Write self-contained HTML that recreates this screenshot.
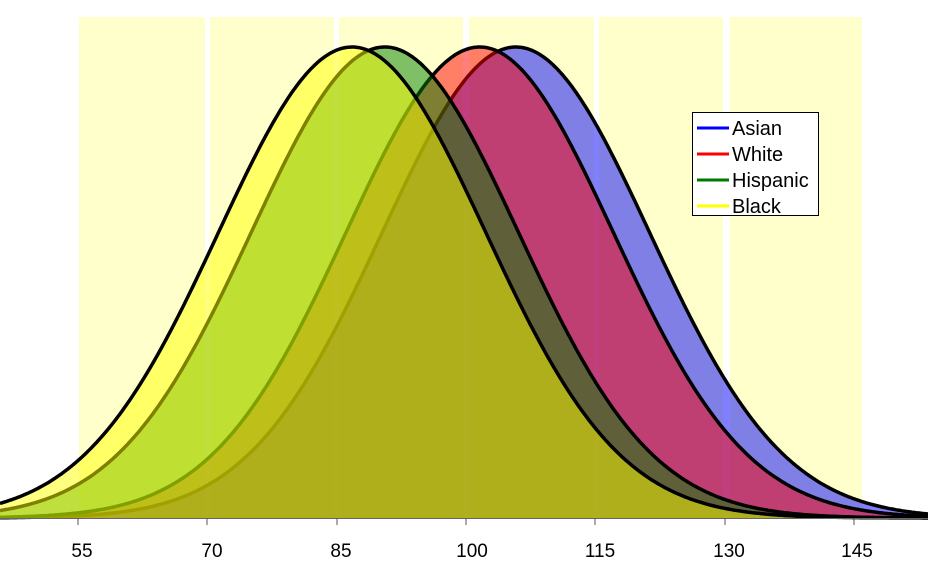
<!DOCTYPE html>
<html><head><style>
html,body{margin:0;padding:0;background:#fff;}
svg{display:block;font-family:"Liberation Sans",Arial,sans-serif;}
</style></head><body>
<svg id="s" width="928" height="571" viewBox="0 0 928 571" xmlns="http://www.w3.org/2000/svg">
<g fill="#ffffcc">
<rect x="79" y="17" width="126" height="501"/>
<rect x="210" y="17" width="124" height="501"/>
<rect x="339" y="17" width="124" height="501"/>
<rect x="469" y="17" width="125" height="501"/>
<rect x="599" y="17" width="124" height="501"/>
<rect x="730" y="17" width="132" height="501"/>
</g>
<g id="curves"></g>
<line x1="0" y1="518.5" x2="928" y2="518.5" stroke="#666" stroke-width="1"/>
<g stroke="#555" stroke-width="1">
<line x1="78" y1="518" x2="78" y2="525"/><line x1="207" y1="518" x2="207" y2="525"/>
<line x1="337" y1="518" x2="337" y2="525"/><line x1="466" y1="518" x2="466" y2="525"/>
<line x1="595" y1="518" x2="595" y2="525"/><line x1="725" y1="518" x2="725" y2="525"/>
<line x1="854" y1="518" x2="854" y2="525"/>
</g>
<g font-size="19" text-anchor="middle" fill="#000">
<text x="82" y="557">55</text><text x="212" y="557">70</text><text x="341" y="557">85</text>
<text x="472" y="557">100</text><text x="600" y="557">115</text><text x="729" y="557">130</text><text x="857" y="557">145</text>
</g>
<rect x="692.5" y="112.5" width="126" height="103" fill="#fff" stroke="#000" stroke-width="1"/>
<g stroke-width="3">
<line x1="697" y1="128" x2="729" y2="128" stroke="#0000ff"/>
<line x1="697" y1="154" x2="729" y2="154" stroke="#ff0000"/>
<line x1="697" y1="180" x2="729" y2="180" stroke="#007700"/>
<line x1="697" y1="206" x2="729" y2="206" stroke="#ffff00"/>
</g>
<g font-size="20" fill="#000">
<text x="732" y="135">Asian</text><text x="732" y="161">White</text>
<text x="732" y="187">Hispanic</text><text x="732" y="213">Black</text>
</g>
</svg>
<script>
var g=document.getElementById('curves');
var series=[[105.8,'rgba(0,0,255,0.5)'],[101.6,'rgba(255,0,0,0.5)'],[90.6,'rgba(0,128,0,0.5)'],[86.8,'rgba(255,255,0,0.5)']];
var base=518,h=471,sd=15.5;
series.forEach(function(s){
 var d='M0,'+base;var line='';
 for(var px=0;px<=928;px+=2){var v=55+(px-78)/8.62;var z=(v-s[0])/sd;var y=base-h*Math.exp(-z*z/2);
  d+=' L'+px+','+y.toFixed(1); line+=(px?' L':'M')+px+','+y.toFixed(1);}
 d+=' L928,'+base+' Z';
 var p=document.createElementNS('http://www.w3.org/2000/svg','path');p.setAttribute('d',d);p.setAttribute('fill',s[1]);g.appendChild(p);
 var l=document.createElementNS('http://www.w3.org/2000/svg','path');l.setAttribute('d',line);l.setAttribute('fill','none');l.setAttribute('stroke','#000');l.setAttribute('stroke-width','3.5');g.appendChild(l);
});
</script>
</body></html>
